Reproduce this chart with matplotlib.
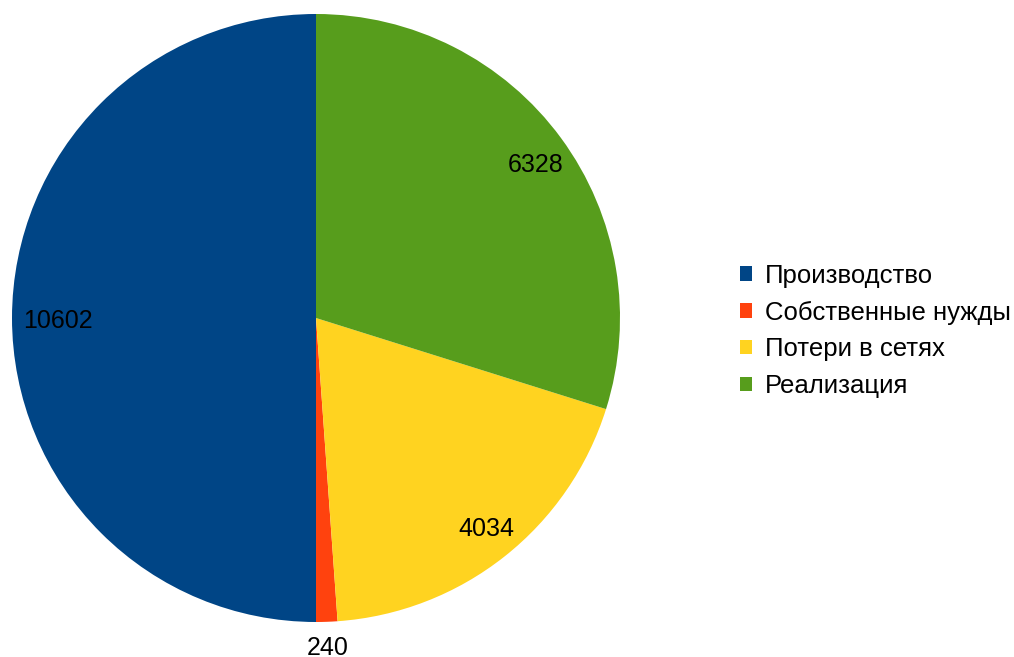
import matplotlib
matplotlib.use("Agg")
import matplotlib.pyplot as plt
from matplotlib.patches import Patch
import numpy as np

categories = ["Производство", "Собственные нужды", "Потери в сетях", "Реализация"]
values = [10602, 240, 4034, 6328]
colors = ["#004586", "#ff420e", "#ffd320", "#579d1c"]

plt.rcParams['font.family'] = ['Liberation Sans', 'DejaVu Sans']

W, H = 1014, 657
fig = plt.figure(figsize=(W / 100, H / 100), dpi=100)
cx, cy, r = 316, 318, 304
ax = fig.add_axes([(cx - r) / W, (H - cy - r) / H, 2 * r / W, 2 * r / H])
ax.set_aspect('equal')

total = sum(values)
wedges, texts, autotexts = ax.pie(
    values, colors=colors, startangle=90, counterclock=True,
    radius=1, autopct=lambda p: f"{round(p * total / 100)}",
    pctdistance=0.87, textprops=dict(fontsize=18, color='black'),
    wedgeprops=dict(linewidth=0))
for w, t, v in zip(wedges, autotexts, values):
    ang = np.deg2rad((w.theta1 + w.theta2) / 2)
    if v / total < 0.03:
        t.set_position((1.085 * np.cos(ang), 1.085 * np.sin(ang)))
    else:
        x, y = t.get_position()
        t.set_position((x + 0.02, y - 0.01))
ax.set_xlim(-1, 1)
ax.set_ylim(-1, 1)
ax.axis('off')

handles = [Patch(facecolor=c, edgecolor='none') for c in colors]
leg = fig.legend(handles, categories, loc='center left',
                 bbox_to_anchor=(740 / W, 1 - 331 / H), frameon=False,
                 fontsize=18.5, handlelength=0.47, handleheight=0.47,
                 handletextpad=0.5, labelspacing=0.5, borderpad=0,
                 borderaxespad=0)

fig.savefig("out.png", dpi=100)
